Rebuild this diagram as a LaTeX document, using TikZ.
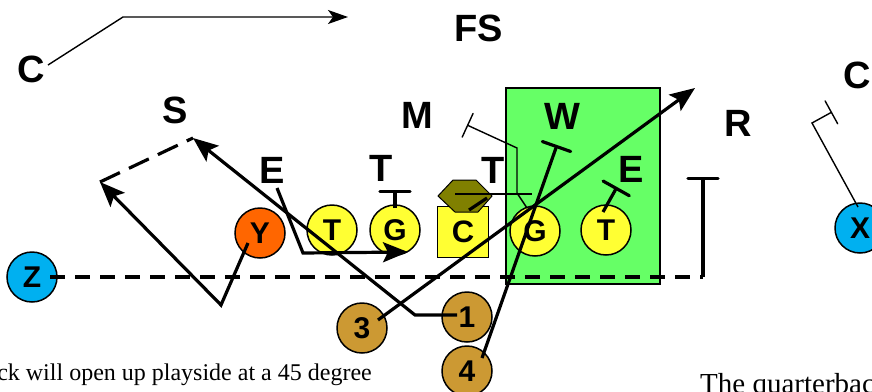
\documentclass[tikz,border=0pt]{standalone}
\usepackage{fontspec}
\setmainfont{Liberation Serif}
\newfontfamily\labfont{Liberation Sans}
\usetikzlibrary{arrows.meta,calc}
\definecolor{zblue}{RGB}{0,176,240}
\definecolor{yorange}{RGB}{255,102,0}
\definecolor{lyellow}{RGB}{255,255,51}
\definecolor{bgold}{RGB}{204,153,51}
\definecolor{holive}{RGB}{128,128,0}
\definecolor{lgreen}{RGB}{102,255,102}
\tikzset{
  deflab/.style={font=\labfont\bfseries\fontsize{38}{40}\selectfont, inner sep=0pt},
  player/.style={circle, draw=black, line width=1.5pt, minimum size=50pt, inner sep=0pt,
                 font=\labfont\bfseries\fontsize{30}{31}\selectfont},
  route/.style={line width=3.2pt},
  thinroute/.style={line width=1.4pt},
  bigtip/.style={-{Stealth[length=25pt,width=20pt,inset=5pt]}},
  smalltip/.style={-{Stealth[length=20pt,width=14pt,inset=5pt]}},
  bigbar/.style={-{Bar[width=30pt,line width=3.2pt,round]}},
  smallbar/.style={-{Bar[width=26pt,line width=1.4pt,round]}},
  dashroute/.style={route, dash pattern=on 15pt off 10pt},
}
\begin{document}
\begin{tikzpicture}[x=1pt,y=-1pt]
\useasboundingbox (0,0) rectangle (872,391);
\clip (0,0) rectangle (872,391);

% zone
\draw[fill=lgreen, line width=1.5pt] (506,88) rectangle (660,284);

% defensive labels
\node[deflab] (lc1) at (31,69) {C};
\node[deflab] (lfs) at (479,28) {FS};
\node[deflab] (ls) at (175,110) {S};
\node[deflab] (lm) at (417,115) {M};
\node[deflab] (le1) at (272,170) {E};
\node[deflab] (lt1) at (381,168) {T};
\node[deflab] (lt2) at (493,170) {T};
\node[deflab] (lw) at (562,116) {W};
\node[deflab] (le2) at (631,169) {E};
\node[deflab] (lr) at (738,123) {R};
\node[deflab] (lc2) at (857,75) {C};

% offensive players
\node[player, fill=zblue] (z) at (32,277) {Z};
\node[player, fill=yorange] (y) at (260,233) {Y};
\node[player, fill=lyellow] (tl) at (332,230) {T};
\node[player, fill=lyellow] (gl) at (395,230) {G};
\node[draw=black, line width=1.5pt, fill=lyellow, minimum width=51pt, minimum height=51pt, inner sep=0pt,
      font=\labfont\bfseries\fontsize{31}{32}\selectfont] (c) at (463,232) {C};
\node[player, fill=lyellow] (gr) at (535,231) {G};
\node[player, fill=lyellow] (tr) at (606,230) {T};
\node[player, fill=zblue] (x) at (860,228) {X};
\node[player, fill=bgold] (b3) at (362,328) {3};
\node[player, fill=bgold] (b1) at (467,317) {1};
\node[player, fill=bgold] (b4) at (467,371) {4};

% hexagon (QB marker)
\draw[fill=holive, line width=1pt] (453,180) -- (476,180) -- (492,196) -- (478,212) -- (455,212) -- (438,196) -- cycle;

% waypoints
\coordinate (c1s) at (48,65);
\coordinate (c1m) at (123,17);
\coordinate (c1e) at (348,17);
\coordinate (ys) at (248,243);
\coordinate (ym) at (221,305);
\coordinate (ye) at (100,182);
\coordinate (st) at (193,138);
\coordinate (b1s) at (457,315);
\coordinate (b1m) at (415,315);
\coordinate (e1s) at (277,188);
\coordinate (e1m) at (303,253);
\coordinate (e1e) at (408,252);
\coordinate (b3s) at (378,320);
\coordinate (b3e) at (695,88);
\coordinate (b4s) at (482,358);
\coordinate (b4e) at (557,145);
\coordinate (trs) at (603,212);
\coordinate (tre) at (617,187);
\coordinate (gls) at (395,208);
\coordinate (gle) at (395,190);
\coordinate (zs) at (50,277);
\coordinate (zm) at (703,277);
\coordinate (ze) at (703,177);
\coordinate (ms) at (527,208);
\coordinate (m1) at (517,193);
\coordinate (m2) at (517,148);
\coordinate (me) at (467,125);
\coordinate (xs) at (858,207);
\coordinate (xm) at (812,123);
\coordinate (xe) at (832,112);
\coordinate (h1) at (455,194);
\coordinate (h2) at (532,194);
\coordinate (cs) at (469,210);
\coordinate (ce) at (487,198);

% routes
\draw[thinroute, smalltip] (c1s) -- (c1m) -- (c1e);
\draw[route, bigtip, line join=miter] (ys) -- (ym) -- (ye);
\draw[route, dash pattern=on 22pt off 10pt] (ye) -- (st);
\draw[route, bigtip] (b1s) -- (b1m) -- (st);
\draw[route, bigtip] (e1s) -- (e1m) -- (e1e);
\draw[route, bigtip] (b3s) -- (b3e);
\draw[route, bigbar] (b4s) -- (b4e);
\draw[route, bigbar] (trs) -- (tre);
\draw[route, bigbar] (gls) -- (gle);
\draw[dashroute] (zs) -- (zm);
\draw[route, bigbar] (zm) -- (ze);
\draw[thinroute, smallbar] (ms) -- (m1) -- (m2) -- (me);
\draw[thinroute, smallbar] (xs) -- (xm) -- (xe);
\draw[thinroute] (h1) -- (h2);
\draw[route] (cs) -- (ce);

% body text (cut by the picture edges, as in the reference)
\node[anchor=base east, inner sep=0pt, font=\fontsize{24}{26}\selectfont] (txt1) at (372,380) {ck will open up playside at a 45 degree};
\node[anchor=base west, inner sep=0pt, font=\fontsize{29}{31}\selectfont] (txt2) at (700,393) {The quarterback};
\end{tikzpicture}
\end{document}
